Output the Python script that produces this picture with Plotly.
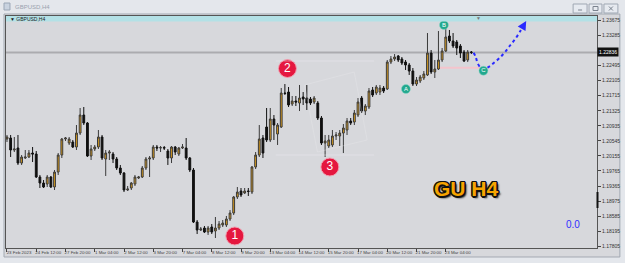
import plotly.graph_objects as go

# ---------------- data ----------------
bars = list(range(128))
opens = [1.20593,1.20619,1.20308,1.20360,1.19971,1.20101,1.20127,1.20230,1.20204,1.19609,
         1.19453,1.19427,1.19609,1.19350,1.19738,1.20178,1.20593,1.20489,1.20515,1.20386,
         1.20748,1.21214,1.21007,1.20153,1.20334,1.20386,1.20645,1.20075,1.20230,1.20204,
         1.20075,1.19842,1.19712,1.19272,1.19324,1.19427,1.19583,1.19609,1.19842,1.20075,
         1.20101,1.20386,1.20360,1.20370,1.20282,1.20101,1.20386,1.20204,1.20360,1.20360,
         1.20101,1.19790,1.18443,1.18236,1.18288,1.18184,1.18314,1.18210,1.18288,1.18366,
         1.18366,1.18521,1.18676,1.19091,1.19246,1.19194,1.19246,1.19220,1.19868,1.20178,
         1.20619,1.20904,1.20567,1.21111,1.20722,1.20904,1.21784,1.21810,1.21499,1.21577,
         1.21525,1.21681,1.21655,1.21629,1.21551,1.21525,1.21137,1.20489,1.20412,1.20438,
         1.20671,1.20671,1.20748,1.20826,1.21059,1.21033,1.21214,1.21655,1.21318,1.21422,
         1.21862,1.21784,1.21810,1.21914,1.21888,1.22587,1.22665,1.22743,1.22665,1.22587,
         1.22510,1.22354,1.22017,1.22095,1.22173,1.22251,1.22820,1.22328,1.22406,1.22639,
         1.22872,1.23261,1.23131,1.23105,1.23002,1.22846,1.22639,1.22846]
highs = [1.20697,1.20697,1.20645,1.20697,1.20178,1.20308,1.20308,1.20386,1.20282,1.19661,
         1.19531,1.19661,1.19635,1.19790,1.20230,1.20619,1.20645,1.20645,1.20567,1.20955,
         1.21396,1.21422,1.21033,1.20438,1.20438,1.20826,1.20697,1.20308,1.20308,1.20256,
         1.20127,1.19920,1.19738,1.19376,1.19479,1.19661,1.19635,1.19894,1.20127,1.20153,
         1.20438,1.20438,1.20412,1.20412,1.20334,1.20412,1.20412,1.20386,1.20463,1.20619,
         1.20127,1.19842,1.18495,1.18314,1.18340,1.18340,1.18391,1.18573,1.18469,1.18495,
         1.18599,1.18753,1.19117,1.19350,1.19324,1.19324,1.19324,1.19894,1.20256,1.20955,
         1.20697,1.21396,1.21396,1.21214,1.21007,1.21914,1.22017,1.21940,1.21707,1.21707,
         1.21992,1.21810,1.21992,1.21681,1.21707,1.21577,1.21189,1.20697,1.20697,1.20826,
         1.20774,1.20826,1.20981,1.21137,1.21137,1.21344,1.21655,1.21707,1.21499,1.21914,
         1.21940,1.21992,1.21992,1.21966,1.22639,1.22743,1.22794,1.22768,1.22717,1.22639,
         1.22561,1.22432,1.22199,1.22251,1.22354,1.23338,1.22898,1.22639,1.23390,1.22950,
         1.23494,1.23416,1.23338,1.23157,1.23053,1.22898,1.22898,1.22872]
lows = [1.20515,1.20127,1.20256,1.19920,1.19920,1.20075,1.20101,1.19997,1.19583,1.19324,
        1.19324,1.19350,1.19324,1.19272,1.19661,1.20101,1.20541,1.20438,1.20360,1.20308,
        1.20697,1.20955,1.20127,1.20049,1.20282,1.20334,1.20049,1.19635,1.20049,1.19971,
        1.19790,1.19661,1.19220,1.19246,1.19272,1.19376,1.19557,1.19583,1.19790,1.19609,
        1.20049,1.20282,1.20256,1.20308,1.19920,1.19971,1.20178,1.20153,1.20334,1.20049,
        1.19738,1.18417,1.18132,1.18210,1.18158,1.18108,1.18132,1.18029,1.18236,1.18314,
        1.18314,1.18469,1.18624,1.19039,1.19091,1.19168,1.19117,1.19168,1.19816,1.20127,
        1.20101,1.20515,1.20515,1.20567,1.20438,1.20878,1.21733,1.21422,1.21448,1.21448,
        1.21318,1.21474,1.21344,1.21474,1.21499,1.21085,1.20438,1.20127,1.20360,1.20386,
        1.20567,1.20412,1.20230,1.20697,1.20955,1.20955,1.21163,1.21266,1.21214,1.21370,
        1.21681,1.21733,1.21733,1.21784,1.21862,1.22535,1.22613,1.22587,1.22510,1.22380,
        1.22251,1.21966,1.21966,1.22043,1.22121,1.22225,1.22277,1.22173,1.22380,1.22587,
        1.22846,1.23079,1.22950,1.22768,1.22691,1.22587,1.22587,1.22794]
closes = [1.20645,1.20308,1.20334,1.19971,1.20127,1.20127,1.20230,1.20204,1.19609,1.19453,
          1.19350,1.19609,1.19350,1.19738,1.20178,1.20593,1.20619,1.20593,1.20386,1.20748,
          1.21214,1.21007,1.20153,1.20334,1.20386,1.20645,1.20101,1.20230,1.20256,1.20075,
          1.19842,1.19712,1.19272,1.19298,1.19453,1.19609,1.19609,1.19842,1.20075,1.20101,
          1.20386,1.20360,1.20370,1.20360,1.20101,1.20386,1.20256,1.20360,1.20386,1.20101,
          1.19790,1.18443,1.18236,1.18262,1.18184,1.18288,1.18184,1.18288,1.18391,1.18417,
          1.18521,1.18676,1.19091,1.19220,1.19143,1.19246,1.19236,1.19868,1.20178,1.20593,
          1.20230,1.20567,1.21111,1.20955,1.20955,1.21784,1.21774,1.21474,1.21577,1.21551,
          1.21655,1.21629,1.21525,1.21525,1.21655,1.21137,1.20489,1.20541,1.20567,1.20671,
          1.20697,1.20748,1.20878,1.21059,1.21007,1.21266,1.21551,1.21318,1.21448,1.21836,
          1.21733,1.21940,1.21914,1.21836,1.22587,1.22665,1.22717,1.22639,1.22561,1.22510,
          1.22354,1.22017,1.22121,1.22199,1.22277,1.22820,1.22328,1.22406,1.22639,1.22872,
          1.23235,1.23131,1.23002,1.22950,1.22820,1.22613,1.22846,1.22836]

time_label_bars = [0, 8, 16, 24, 32, 40, 48, 56, 64, 72, 80, 88, 96, 104, 112, 120]
time_labels = ["23 Feb 2023", "24 Feb 12:00", "27 Feb 20:00", "1 Mar 04:00", "2 Mar 12:00",
               "3 Mar 20:00", "7 Mar 04:00", "8 Mar 12:00", "9 Mar 20:00", "13 Mar 04:00",
               "14 Mar 12:00", "15 Mar 20:00", "17 Mar 04:00", "20 Mar 12:00", "21 Mar 20:00",
               "23 Mar 04:00"]
price_ticks = [1.23675, 1.23285, 1.22495, 1.22105, 1.21715, 1.21325, 1.20935, 1.20545,
               1.20155, 1.19765, 1.19365, 1.18975, 1.18585, 1.18195, 1.17805]
price_tick_text = ["1.23675", "1.23285", "1.22495", "1.22105", "1.21715", "1.21325", "1.20935",
                   "1.20545", "1.20155", "1.19765", "1.19365", "1.18975", "1.18585", "1.18195",
                   "1.17805"]

wave_labels = ["1", "2", "3"]
wave_x = [62.3, 76.7, 88.3]
wave_y = [1.18081, 1.22419, 1.19868]

abc_labels = ["A", "B", "C"]
abc_x = [109.1, 119.5, 130.3]
abc_y = [1.21888, 1.23546, 1.22362]

proj_x = [127.6, 128.2, 128.7, 129.5, 130.3, 131.7, 133.1, 134.7, 136.3, 137.7, 139.0, 140.4, 141.2]
proj_y = [1.22828, 1.22717, 1.22561, 1.22445, 1.22406, 1.22458, 1.22561, 1.22691, 1.22859,
          1.23028, 1.23183, 1.23390, 1.23520]
proj_tip = (142.0, 1.23649)

pink_level = 1.22440
pink_span = (118.0, 130.5)

x_range = [-0.27, 161.36]
y_range = [1.17770, 1.23779]

# ---------------- layout helpers (pixel -> paper) ----------------
PL, PR, PT, PB = 5, 599, 16, 248
def px(x):
    return (x - PL) / (PR - PL)
def py(y):
    return (PB - y) / (PB - PT)

CHART_BG = "#d7d8dc"
FRAME_BG = "#e4e7ec"

fig = go.Figure()
fig.add_trace(go.Candlestick(
    x=bars, open=opens, high=highs, low=lows, close=closes,
    increasing=dict(line=dict(color="#3a3a3a", width=1), fillcolor="#e3a21c"),
    decreasing=dict(line=dict(color="#111111", width=1), fillcolor="#111111"),
    whiskerwidth=0, showlegend=False, hoverinfo="skip"))

# projected path (blue dotted)
fig.add_trace(go.Scatter(x=proj_x, y=proj_y, mode="lines",
                         line=dict(color="#2a2aff", width=2, dash="dot", shape="spline"),
                         showlegend=False, hoverinfo="skip"))

# red wave circles
fig.add_trace(go.Scatter(x=wave_x, y=wave_y, mode="markers+text", text=wave_labels,
                         textposition="middle center",
                         marker=dict(size=18, color="#e5173f", line=dict(color="#f0a0b0", width=1)),
                         textfont=dict(color="white", size=12, family="Liberation Sans"),
                         showlegend=False, hoverinfo="skip", cliponaxis=False))
# teal ABC circles
fig.add_trace(go.Scatter(x=abc_x, y=abc_y, mode="markers+text", text=abc_labels,
                         textposition="middle center",
                         marker=dict(size=9, color="#22a88e", line=dict(color="#8fd8c8", width=0.5)),
                         textfont=dict(color="white", size=6, family="Liberation Sans"),
                         showlegend=False, hoverinfo="skip", cliponaxis=False))

shapes = []
# chart window background
shapes.append(dict(type="rect", xref="paper", yref="paper", x0=px(3), x1=px(622), y0=py(257), y1=py(14),
                   fillcolor=CHART_BG, line=dict(color="#a3a9b2", width=1), layer="below"))
# cyan band at top
shapes.append(dict(type="rect", xref="paper", yref="paper", x0=0, x1=1, y0=py(21.5), y1=1,
                   fillcolor="#b3e1e6", line=dict(width=0), layer="above"))
# current price line
shapes.append(dict(type="line", xref="paper", yref="y", x0=0, x1=1, y0=closes[-1], y1=closes[-1],
                   line=dict(color="#ababaf", width=2), layer="below"))
# pink level line
shapes.append(dict(type="line", xref="x", yref="y", x0=pink_span[0], x1=pink_span[1],
                   y0=pink_level, y1=pink_level, line=dict(color="#f4c4cc", width=2), layer="below"))
# faint watermark lines
for wy in (61, 155):
    shapes.append(dict(type="line", xref="paper", yref="paper", x0=px(276), x1=px(375), y0=py(wy), y1=py(wy),
                       line=dict(color="rgba(236,236,240,0.45)", width=1), layer="above"))
shapes.append(dict(type="path", xref="paper", yref="paper",
                   path="M {} {} L {} {} L {} {} L {} {} Z".format(px(305), py(85), px(355), py(72), px(368), py(140), px(318), py(152)),
                   line=dict(color="rgba(236,236,240,0.3)", width=1), layer="above"))
# axis marker (black block on price scale)
shapes.append(dict(type="line", xref="paper", yref="paper", x0=px(599.5), x1=px(599.5), y0=py(192), y1=py(208),
                   line=dict(color="#111", width=2)))
# title-bar buttons
for bx0, bx1 in ((575, 589), (591, 604), (606, 620)):
    shapes.append(dict(type="rect", xref="paper", yref="paper", x0=px(bx0), x1=px(bx1), y0=py(13), y1=py(4),
                       fillcolor="#e6eaf0", line=dict(color="#9fa7b3", width=1)))
# button glyphs
shapes.append(dict(type="line", xref="paper", yref="paper", x0=px(580), x1=px(584), y0=py(10), y1=py(10),
                   line=dict(color="#7a828e", width=1)))
shapes.append(dict(type="rect", xref="paper", yref="paper", x0=px(595), x1=px(600), y0=py(10.5), y1=py(6.5),
                   line=dict(color="#7a828e", width=1)))
shapes.append(dict(type="line", xref="paper", yref="paper", x0=px(611), x1=px(615), y0=py(10.5), y1=py(6.5),
                   line=dict(color="#7a828e", width=1)))
shapes.append(dict(type="line", xref="paper", yref="paper", x0=px(611), x1=px(615), y0=py(6.5), y1=py(10.5),
                   line=dict(color="#7a828e", width=1)))
# small icon
shapes.append(dict(type="rect", xref="paper", yref="paper", x0=px(3), x1=px(9), y0=py(10), y1=py(3),
                   fillcolor="#c9d3e0", line=dict(color="#9aa6b6", width=1)))

annotations = []
# window title
annotations.append(dict(xref="paper", yref="paper", x=px(12), y=py(7), text="GBPUSD,H4", showarrow=False,
                        xanchor="left", yanchor="middle",
                        font=dict(size=6, color="#9aa3ae", family="Liberation Sans")))
# chart label
annotations.append(dict(xref="paper", yref="paper", x=px(7), y=py(19), text="▼ GBPUSD,H4", showarrow=False,
                        xanchor="left", yanchor="middle",
                        font=dict(size=5, color="#222", family="Liberation Sans")))
# chart shift marker
annotations.append(dict(xref="paper", yref="paper", x=px(480), y=py(17.5), text="▼", showarrow=False,
                        xanchor="center", yanchor="middle",
                        font=dict(size=5, color="#777", family="Liberation Sans")))
# current price box
annotations.append(dict(xref="paper", yref="y", x=1, y=closes[-1], text="{:.5f}".format(closes[-1]),
                        showarrow=False, xanchor="left", yanchor="middle", bgcolor="#111", borderpad=1,
                        font=dict(size=5, color="white", family="Liberation Sans")))
# arrow head of projection
annotations.append(dict(xref="x", yref="y", axref="x", ayref="y", x=proj_tip[0], y=proj_tip[1],
                        ax=proj_x[-1], ay=proj_y[-1], text="", showarrow=True, arrowhead=2,
                        arrowsize=1.2, arrowwidth=1.5, arrowcolor="#2a2aff"))
# GU H4 label with black outline (text shadow)
annotations.append(dict(xref="paper", yref="paper", x=px(503), y=py(202), text="<b>GU H4</b>", showarrow=False,
                        font=dict(size=21, color="#f6a400", family="Liberation Sans",
                                  shadow="1.5px 0 0 #111, -1.5px 0 0 #111, 0 1.5px 0 #111, 0 -1.5px 0 #111, "
                                         "1px 1px 0 #111, -1px -1px 0 #111, 1px -1px 0 #111, -1px 1px 0 #111, "
                                         "2px 2px 2px #000")))
# indicator value
annotations.append(dict(xref="paper", yref="paper", x=px(584), y=py(232), text="0.0", showarrow=False,
                        font=dict(size=10, color="#2f2fff", family="Liberation Sans")))

fig.update_layout(
    width=625, height=263,
    margin=dict(l=PL, r=625 - PR, t=PT, b=263 - PB, pad=0),
    paper_bgcolor=FRAME_BG, plot_bgcolor=CHART_BG,
    shapes=shapes, annotations=annotations,
    showlegend=False,
    xaxis=dict(range=x_range, rangeslider=dict(visible=False), showgrid=False, zeroline=False,
               tickmode="array", tickvals=time_label_bars, ticktext=time_labels, tickangle=0,
               ticks="outside", ticklen=3, tickcolor="#444", tickwidth=1,
               ticklabelshift=12, ticklabelstandoff=-3,
               showline=True, linecolor="#555", linewidth=1, mirror=True,
               tickfont=dict(size=4.4, color="#444", family="Liberation Sans")),
    yaxis=dict(range=y_range, side="right", showgrid=False, zeroline=False,
               tickmode="array", tickvals=price_ticks, ticktext=price_tick_text,
               ticks="outside", ticklen=3, tickcolor="#444", tickwidth=1,
               showline=True, linecolor="#555", linewidth=1, mirror=True,
               tickfont=dict(size=5, color="#333", family="Liberation Sans")),
)

fig.write_html("out.html")
